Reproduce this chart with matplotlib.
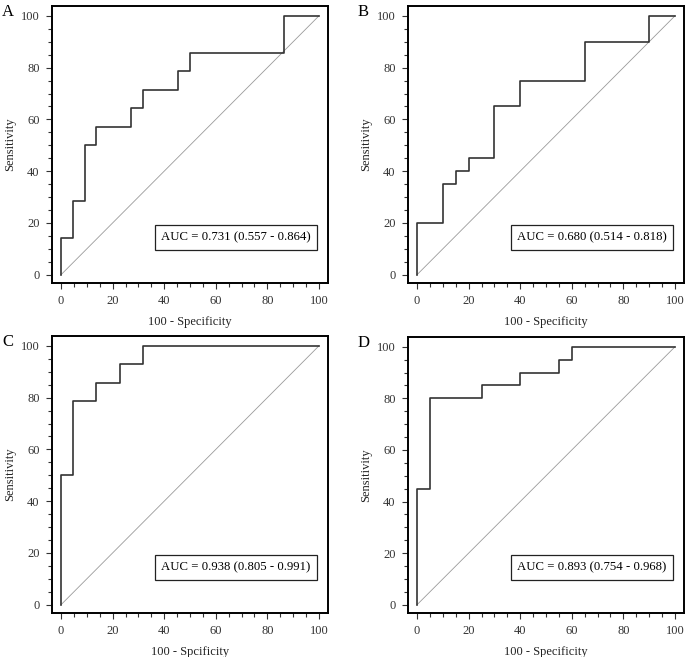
import matplotlib
matplotlib.use("Agg")
import matplotlib.pyplot as plt
from matplotlib.ticker import MultipleLocator

plt.rcParams.update({
    "font.family": ["Liberation Serif", "DejaVu Serif"], "font.size": 9,
    "xtick.direction": "out", "ytick.direction": "out",
})

# ROC step curves (100 - specificity, sensitivity)
a_fpr = [0, 0, 4.5, 4.5, 9.1, 9.1, 13.6, 13.6, 27.3, 27.3, 31.8, 31.8, 45.5, 45.5, 50, 50, 86.4, 86.4, 100]
a_tpr = [0, 14.3, 14.3, 28.6, 28.6, 50, 50, 57.1, 57.1, 64.3, 64.3, 71.4, 71.4, 78.6, 78.6, 85.7, 85.7, 100, 100]
b_fpr = [0, 0, 10, 10, 15, 15, 20, 20, 30, 30, 40, 40, 65, 65, 90, 90, 100]
b_tpr = [0, 20, 20, 35, 35, 40, 40, 45, 45, 65, 65, 75, 75, 90, 90, 100, 100]
c_fpr = [0, 0, 4.5, 4.5, 13.6, 13.6, 22.7, 22.7, 31.8, 31.8, 100]
c_tpr = [0, 50, 50, 78.6, 78.6, 85.7, 85.7, 92.9, 92.9, 100, 100]
d_fpr = [0, 0, 5, 5, 25, 25, 40, 40, 55, 55, 60, 60, 100]
d_tpr = [0, 45, 45, 80, 80, 85, 85, 90, 90, 95, 95, 100, 100]

panels = ["A", "B", "C", "D"]
auc_text = ["AUC = 0.731 (0.557 - 0.864)", "AUC = 0.680 (0.514 - 0.818)",
            "AUC = 0.938 (0.805 - 0.991)", "AUC = 0.893 (0.754 - 0.968)"]
xlabels = ["100 - Specificity", "100 - Specificity", "100 - Spcificity", "100 - Specificity"]
curves = [(a_fpr, a_tpr), (b_fpr, b_tpr), (c_fpr, c_tpr), (d_fpr, d_tpr)]

W, H = 685, 657
fig = plt.figure(figsize=(W / 100, H / 100), dpi=100)
# axes boxes in pixels: left, top, right, bottom
boxes = [(52, 6, 328, 283), (408, 6, 684, 283), (52, 336, 328, 613), (408, 337, 684, 613)]

for (l, t, r, b), lab, txt, xl, (fx, ty) in zip(boxes, panels, auc_text, xlabels, curves):
    ax = fig.add_axes([l / W, 1 - b / H, (r - l) / W, (b - t) / H])
    ax.plot([0, 100], [0, 100], color="#9a9a9a", lw=0.6)
    ax.plot(fx, ty, color="#333333", lw=1.2)
    ax.set_xlim(-3.5, 103.5)
    ax.set_ylim(-3.2, 103.8)
    ax.xaxis.set_major_locator(MultipleLocator(20))
    ax.yaxis.set_major_locator(MultipleLocator(20))
    ax.xaxis.set_minor_locator(MultipleLocator(5))
    ax.yaxis.set_minor_locator(MultipleLocator(5))
    ax.tick_params(which="major", length=4, width=0.8, labelsize=9, colors="#333333", pad=5)
    ax.tick_params(which="minor", length=3, width=0.8, colors="#333333")
    for s in ax.spines.values():
        s.set_linewidth(1.4)
    ax.set_xlabel(xl, fontsize=9, color="#222222", labelpad=6)
    ax.set_ylabel("Sensitivity", fontsize=9, color="#222222", labelpad=3)
    ax.text(96.8, 14.4, txt, ha="right", va="center", fontsize=9.2,
            bbox=dict(boxstyle="square,pad=0.5", fc="white", ec="#222222", lw=0.9))
    fig.text((l - 50) / W, 1 - (t + 6) / H, lab, fontsize=12, va="center", ha="left")

fig.savefig("out.png", dpi=100)
